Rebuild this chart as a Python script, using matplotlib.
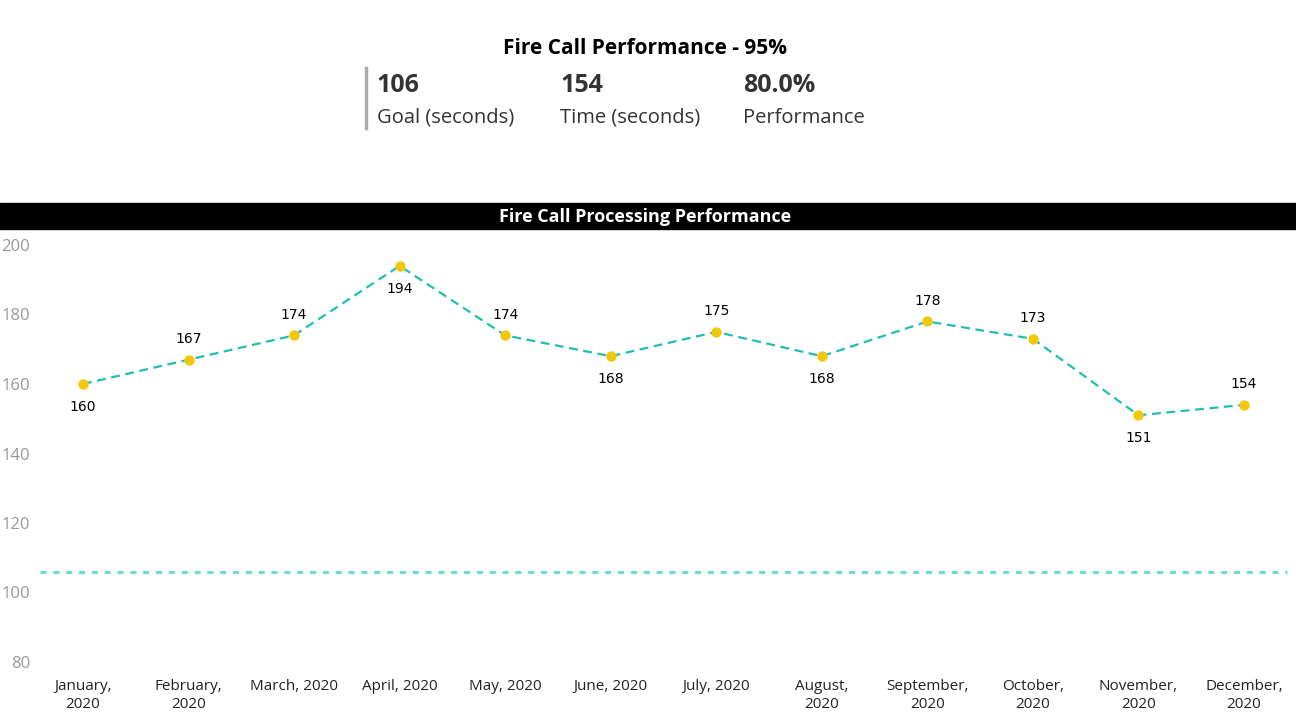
import matplotlib.pyplot as plt
import numpy as np

plt.rcParams['font.family'] = ['Open Sans', 'DejaVu Sans']

months = ["January,\n2020", "February,\n2020", "March, 2020", "April, 2020",
          "May, 2020", "June, 2020", "July, 2020", "August,\n2020",
          "September,\n2020", "October,\n2020", "November,\n2020", "December,\n2020"]
times = [160, 167, 174, 194, 174, 168, 175, 168, 178, 173, 151, 154]
label_pos = ["below", "above", "above", "below", "above", "below",
             "above", "below", "above", "above", "below", "above"]
goal = 106
kpi_values = ["106", "154", "80.0%"]
kpi_names = ["Goal (seconds)", "Time (seconds)", "Performance"]

W, H = 1296, 726
fig = plt.figure(figsize=(W / 100, H / 100), dpi=100)
fig.patch.set_facecolor("white")

def px(x, y):
    return x / W, 1 - y / H

# header card
fig.text(*px(645, 49), "Fire Call Performance - 95%", ha="center", va="center",
         fontsize=15, fontweight="bold", color="black")
fig.add_artist(plt.Line2D([366 / W, 366 / W], [1 - 68 / H, 1 - 128 / H],
                          color="#aaaaaa", lw=2.5))
for i, (v, n) in enumerate(zip(kpi_values, kpi_names)):
    x0 = 377 + i * 183
    fig.text(*px(x0, 86), v, ha="left", va="center", fontsize=18,
             fontweight="bold", color="#333333")
    fig.text(*px(x0, 118), n, ha="left", va="center", fontsize=14.5, color="#333333")

# title bar
fig.add_artist(plt.Rectangle((0, 1 - 229 / H), 1, 26 / H, color="black",
                             transform=fig.transFigure))
fig.text(*px(645, 217), "Fire Call Processing Performance", ha="center", va="center",
         fontsize=13, fontweight="bold", color="white")

# chart
ax = fig.add_axes([40 / W, 1 - 662 / H, (1287 - 40) / W, (662 - 245) / H])
x = np.arange(len(times))
ax.set_xlim(-0.407, 11.407)
ax.set_ylim(80, 200)
ax.axhline(goal, color="#6ddcd2", lw=2.2, ls=(0, (2, 2.2)), clip_on=False)
ax.plot(x, times, color="#1fbfad", lw=1.6, ls=(0, (4, 2.5)), clip_on=False, zorder=3)
ax.plot(x, times, "o", color="#f2c80f", ms=6.5, clip_on=False, zorder=4)
for xi, t, p in zip(x, times, label_pos):
    off = 15 if p == "above" else -16.5
    ax.annotate(str(t), (xi, t), xytext=(0, off), textcoords="offset points",
                ha="center", va="center", fontsize=10, color="black",
                family=["DejaVu Sans"])

for s in ax.spines.values():
    s.set_visible(False)
ax.set_yticks([80, 100, 120, 140, 160, 180, 200])
ax.tick_params(axis="y", length=0, pad=7, labelsize=12, labelcolor="#999999")
ax.set_xticks(x)
ax.set_xticklabels(months, fontsize=11, color="#222222", linespacing=1.3)
ax.tick_params(axis="x", length=0, pad=12)

fig.savefig("out.png", dpi=100, facecolor="white")
